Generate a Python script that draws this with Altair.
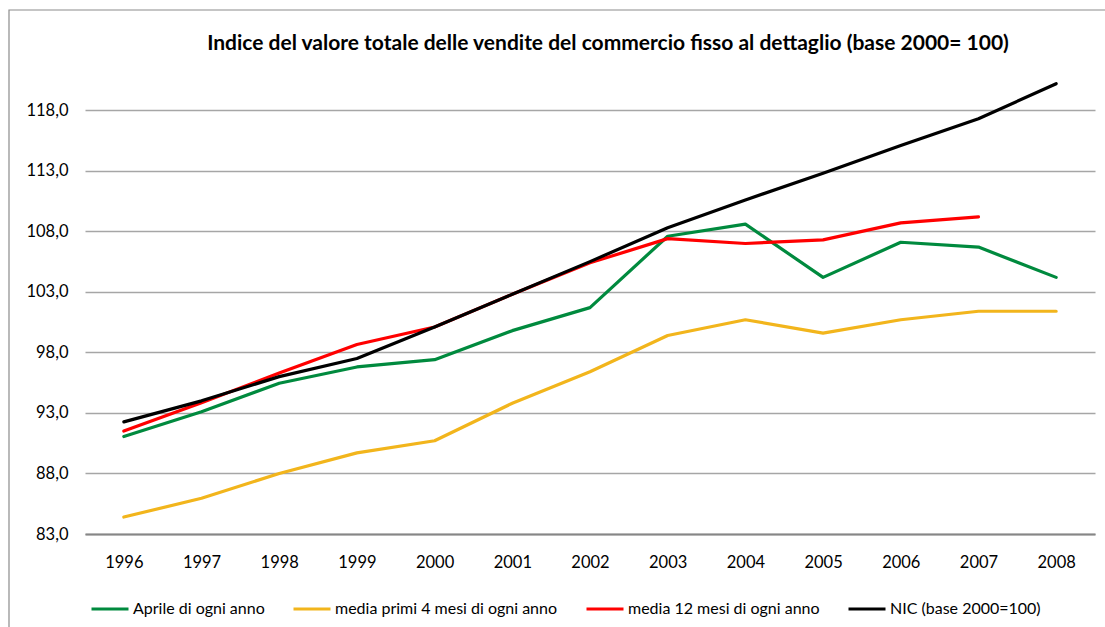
import altair as alt
import pandas as pd

years = ["1996", "1997", "1998", "1999", "2000", "2001", "2002",
         "2003", "2004", "2005", "2006", "2007", "2008"]
aprile = [91.05, 93.1, 95.45, 96.8, 97.4, 99.8, 101.7, 107.6, 108.6, 104.2, 107.1, 106.7, 104.2]
primi4 = [84.4, 85.95, 88.0, 89.7, 90.7, 93.8, 96.4, 99.4, 100.7, 99.6, 100.7, 101.4, 101.4]
media12 = [91.5, 93.85, 96.3, 98.65, 100.1, 102.8, 105.4, 107.4, 107.0, 107.3, 108.7, 109.2, None]
nic = [92.26, 94.0, 96.0, 97.5, 100.1, 102.8, 105.5, 108.3, 110.6, 112.8, 115.1, 117.3, 120.2]

series_names = ["Aprile di ogni anno", "media primi 4 mesi di ogni anno",
                "media 12 mesi di ogni anno", "NIC (base 2000=100)"]
series_values = [aprile, primi4, media12, nic]
colors = ["#008A3E", "#F2B51C", "#FF0000", "#000000"]
y_ticks = [83, 88, 93, 98, 103, 108, 113, 118]
title_text = "Indice del valore totale delle vendite del commercio fisso al dettaglio (base 2000= 100)"

rows = []
for si, (name, vals) in enumerate(zip(series_names, series_values)):
    for y, v in zip(years, vals):
        if v is not None:
            rows.append({"anno": y, "valore": v, "serie": name, "ordine": si})
df = pd.DataFrame(rows)

FONT = "Lato"

lines = alt.Chart(df).mark_line(strokeWidth=3.2, strokeJoin="round", strokeCap="round").encode(
    x=alt.X("anno:O", sort=years, title=None,
            scale=alt.Scale(type="point", padding=0.5),
            axis=alt.Axis(labelAngle=0, ticks=False, domain=True, domainColor="#868686",
                          domainWidth=2, labelPadding=20, labelFontSize=16.5,
                          labelColor="#000000", labelFont=FONT, grid=False)),
    y=alt.Y("valore:Q", title=None,
            scale=alt.Scale(domain=[83, 121], nice=False, zero=False),
            axis=alt.Axis(values=y_ticks, ticks=False, domain=False,
                          labelExpr="replace(format(datum.value, '.1f'), '.', ',')",
                          labelPadding=17, labelFontSize=16.5, labelColor="#000000",
                          labelFont=FONT, gridColor="#A6A6A6", gridWidth=1.4)),
    color=alt.Color("serie:N", sort=series_names,
                    scale=alt.Scale(domain=series_names, range=colors),
                    legend=alt.Legend(title=None, orient="none", legendX=5, legendY=515,
                                      direction="horizontal", columns=4,
                                      symbolType="stroke", symbolStrokeWidth=3,
                                      symbolSize=1369, labelFontSize=16, labelFont=FONT,
                                      labelColor="#000000", labelOffset=3, labelLimit=0,
                                      columnPadding=22, padding=0)),
    order=alt.Order("ordine:Q"),
)

one = pd.DataFrame({"a": [0]})

border = alt.Chart(one).mark_rect(
    filled=False, stroke="#8C8C8C", strokeWidth=1.2
).encode(
    x=alt.value(-76), x2=alt.value(1030), y=alt.value(-64), y2=alt.value(570)
)

title = alt.Chart(one).mark_text(
    text=title_text, font=FONT, fontSize=21, fontWeight="bold", color="#000000",
    align="center", baseline="middle"
).encode(x=alt.value(523), y=alt.value(-30))

chart = alt.layer(border, lines, title).properties(
    width=1010, height=460,
    autosize=alt.AutoSizeParams(type="none"),
    padding={"left": 85, "top": 74, "right": 10, "bottom": 93},
).configure(background="white").configure_view(stroke="transparent", strokeWidth=0)

chart.save("out.html", embed_options={"renderer": "svg", "actions": False})
